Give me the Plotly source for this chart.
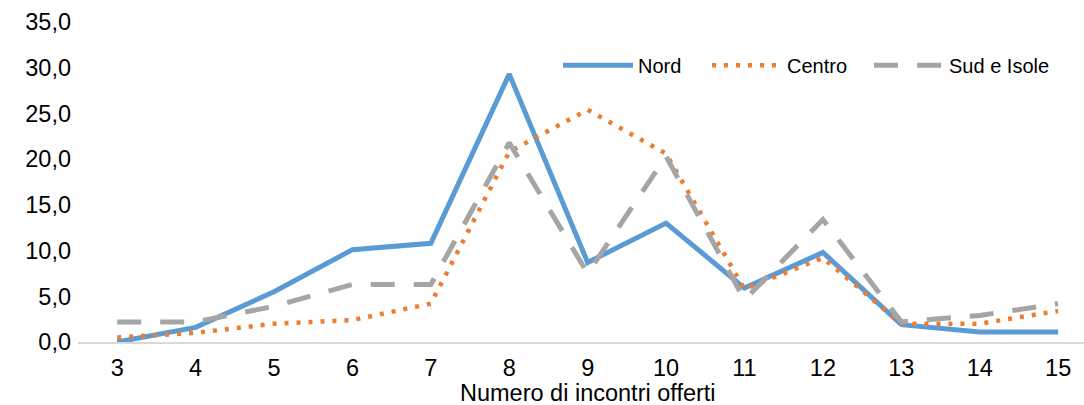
import plotly.graph_objects as go

incontri = [3, 4, 5, 6, 7, 8, 9, 10, 11, 12, 13, 14, 15]
nord = [0.0, 1.6, 5.5, 10.1, 10.8, 29.3, 8.7, 13.0, 5.9, 9.8, 1.9, 1.1, 1.1]
centro = [0.5, 1.0, 2.0, 2.4, 4.2, 20.8, 25.4, 20.6, 5.8, 9.2, 2.0, 2.0, 3.4]
sud_isole = [2.2, 2.2, 3.9, 6.3, 6.3, 21.8, 7.5, 20.3, 4.6, 13.4, 2.2, 2.9, 4.2]
y_ticks = [0, 5, 10, 15, 20, 25, 30, 35]
y_tick_labels = ["0,0", "5,0", "10,0", "15,0", "20,0", "25,0", "30,0", "35,0"]
x_title = "Numero di incontri offerti"

fig = go.Figure()
fig.add_trace(go.Scatter(x=incontri, y=nord, name="Nord", mode="lines", legend="legend",
                         line=dict(color="#5B9BD5", width=5)))
fig.add_trace(go.Scatter(x=incontri, y=centro, name="Centro", mode="lines", legend="legend2",
                         line=dict(color="#ED7D31", width=4.5, dash="4px,8px")))
fig.add_trace(go.Scatter(x=incontri, y=sud_isole, name="Sud e Isole", mode="lines", legend="legend3",
                         line=dict(color="#A5A5A5", width=5, dash="24px,19px")))

font = "Liberation Sans, Arial, sans-serif"
leg_common = dict(orientation="h", xanchor="left", y=0.865, yanchor="middle",
                  font=dict(size=20), itemwidth=70, bgcolor="rgba(0,0,0,0)")
fig.update_layout(
    width=1084, height=405,
    margin=dict(l=78, r=0, t=22, b=63),
    plot_bgcolor="white", paper_bgcolor="white",
    font=dict(family=font, size=23.5, color="#000000"),
    showlegend=True,
    legend=dict(x=(558 - 78) / 1006, **leg_common),
    legend2=dict(x=(707 - 78) / 1006, **leg_common),
    legend3=dict(x=(869 - 78) / 1006, **leg_common),
    xaxis=dict(range=[2.5, 15.33], tickvals=incontri, ticktext=[str(v) for v in incontri],
               showgrid=False, zeroline=False, showline=True, linecolor="#D9D9D9", linewidth=2,
               ticks="", ticklabelstandoff=4, automargin=False),
    yaxis=dict(range=[0, 35], tickvals=y_ticks, ticktext=y_tick_labels,
               showgrid=False, zeroline=False, showline=False, ticks="",
               ticklabelstandoff=6, automargin=False),
    annotations=[dict(text=x_title, xref="paper", yref="paper", x=(587.5 - 78) / 1006,
                      y=-51 / 320, xanchor="center", yanchor="middle", showarrow=False,
                      font=dict(size=23.5))],
)
fig.write_html("out.html", post_script="document.body.style.margin='0';",
               config={"displayModeBar": False})
